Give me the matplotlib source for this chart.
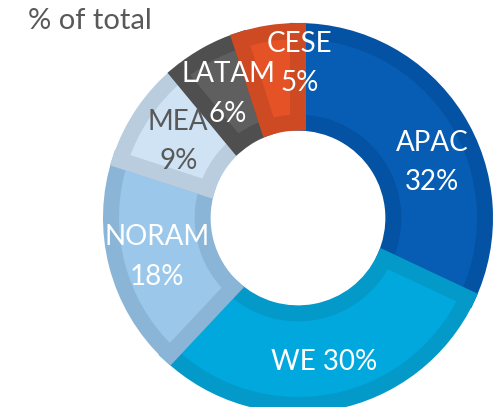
import numpy as np
import matplotlib.pyplot as plt

regions = ["APAC", "WE", "NORAM", "MEA", "LATAM", "CESE"]
shares = [32, 30, 18, 9, 6, 5]
fills = ["#075DB3", "#00A8DE", "#9BC8EA", "#CFE3F5", "#5F5F5F", "#E45226"]
borders = ["#0452A3", "#0399C9", "#8BB5D6", "#BACDDE", "#4F4F4F", "#CE4A23"]
text_colors = ["white", "white", "white", "#595959", "white", "white"]
label_texts = ["APAC\n32%", "WE 30%", "NORAM\n18%", "MEA\n9%", "LATAM\n6%", "CESE\n5%"]
# nudges in pixels (dx, dy) from the ring midpoint
nudges = [(15, -20), (0, -5), (-4, -4), (-3, -3), (-2, 0), (24, 15)]


def main():
    plt.rcParams["font.family"] = ["Lato", "DejaVu Sans"]
    fig = plt.figure(figsize=(4.96, 4.07), dpi=100)
    cx, cy, r = 298, 218, 187
    W, H = 496, 407
    ax = fig.add_axes([(cx - r) / W, (H - cy - r) / H, 2 * r / W, 2 * r / H])
    hole = 0.51
    wedges, _ = ax.pie(shares, colors=fills, startangle=90, counterclock=False,
                       radius=1, wedgeprops=dict(width=1 - hole, linewidth=0))
    for w, bc in zip(wedges, borders):
        w.set_edgecolor(bc)
        w.set_linewidth(16 * 0.72)
        w.set_clip_path(w)
    ax.set_xlim(-1, 1)
    ax.set_ylim(-1, 1)
    ax.axis("off")

    mid_r = (1 + hole) / 2
    for w, txt, col, (dx, dy) in zip(wedges, label_texts, text_colors, nudges):
        ang = np.deg2rad((w.theta1 + w.theta2) / 2)
        x = mid_r * np.cos(ang) + dx / r
        y = mid_r * np.sin(ang) + dy / r
        ax.text(x, y, txt, color=col, fontsize=20, ha="center", va="center",
                multialignment="center", linespacing=1.65)

    fig.text(28 / W, 1 - 21 / H, "% of total", color="#595959", fontsize=21,
             ha="left", va="center")
    fig.savefig("out.png", dpi=100)


if __name__ == "__main__":
    main()
